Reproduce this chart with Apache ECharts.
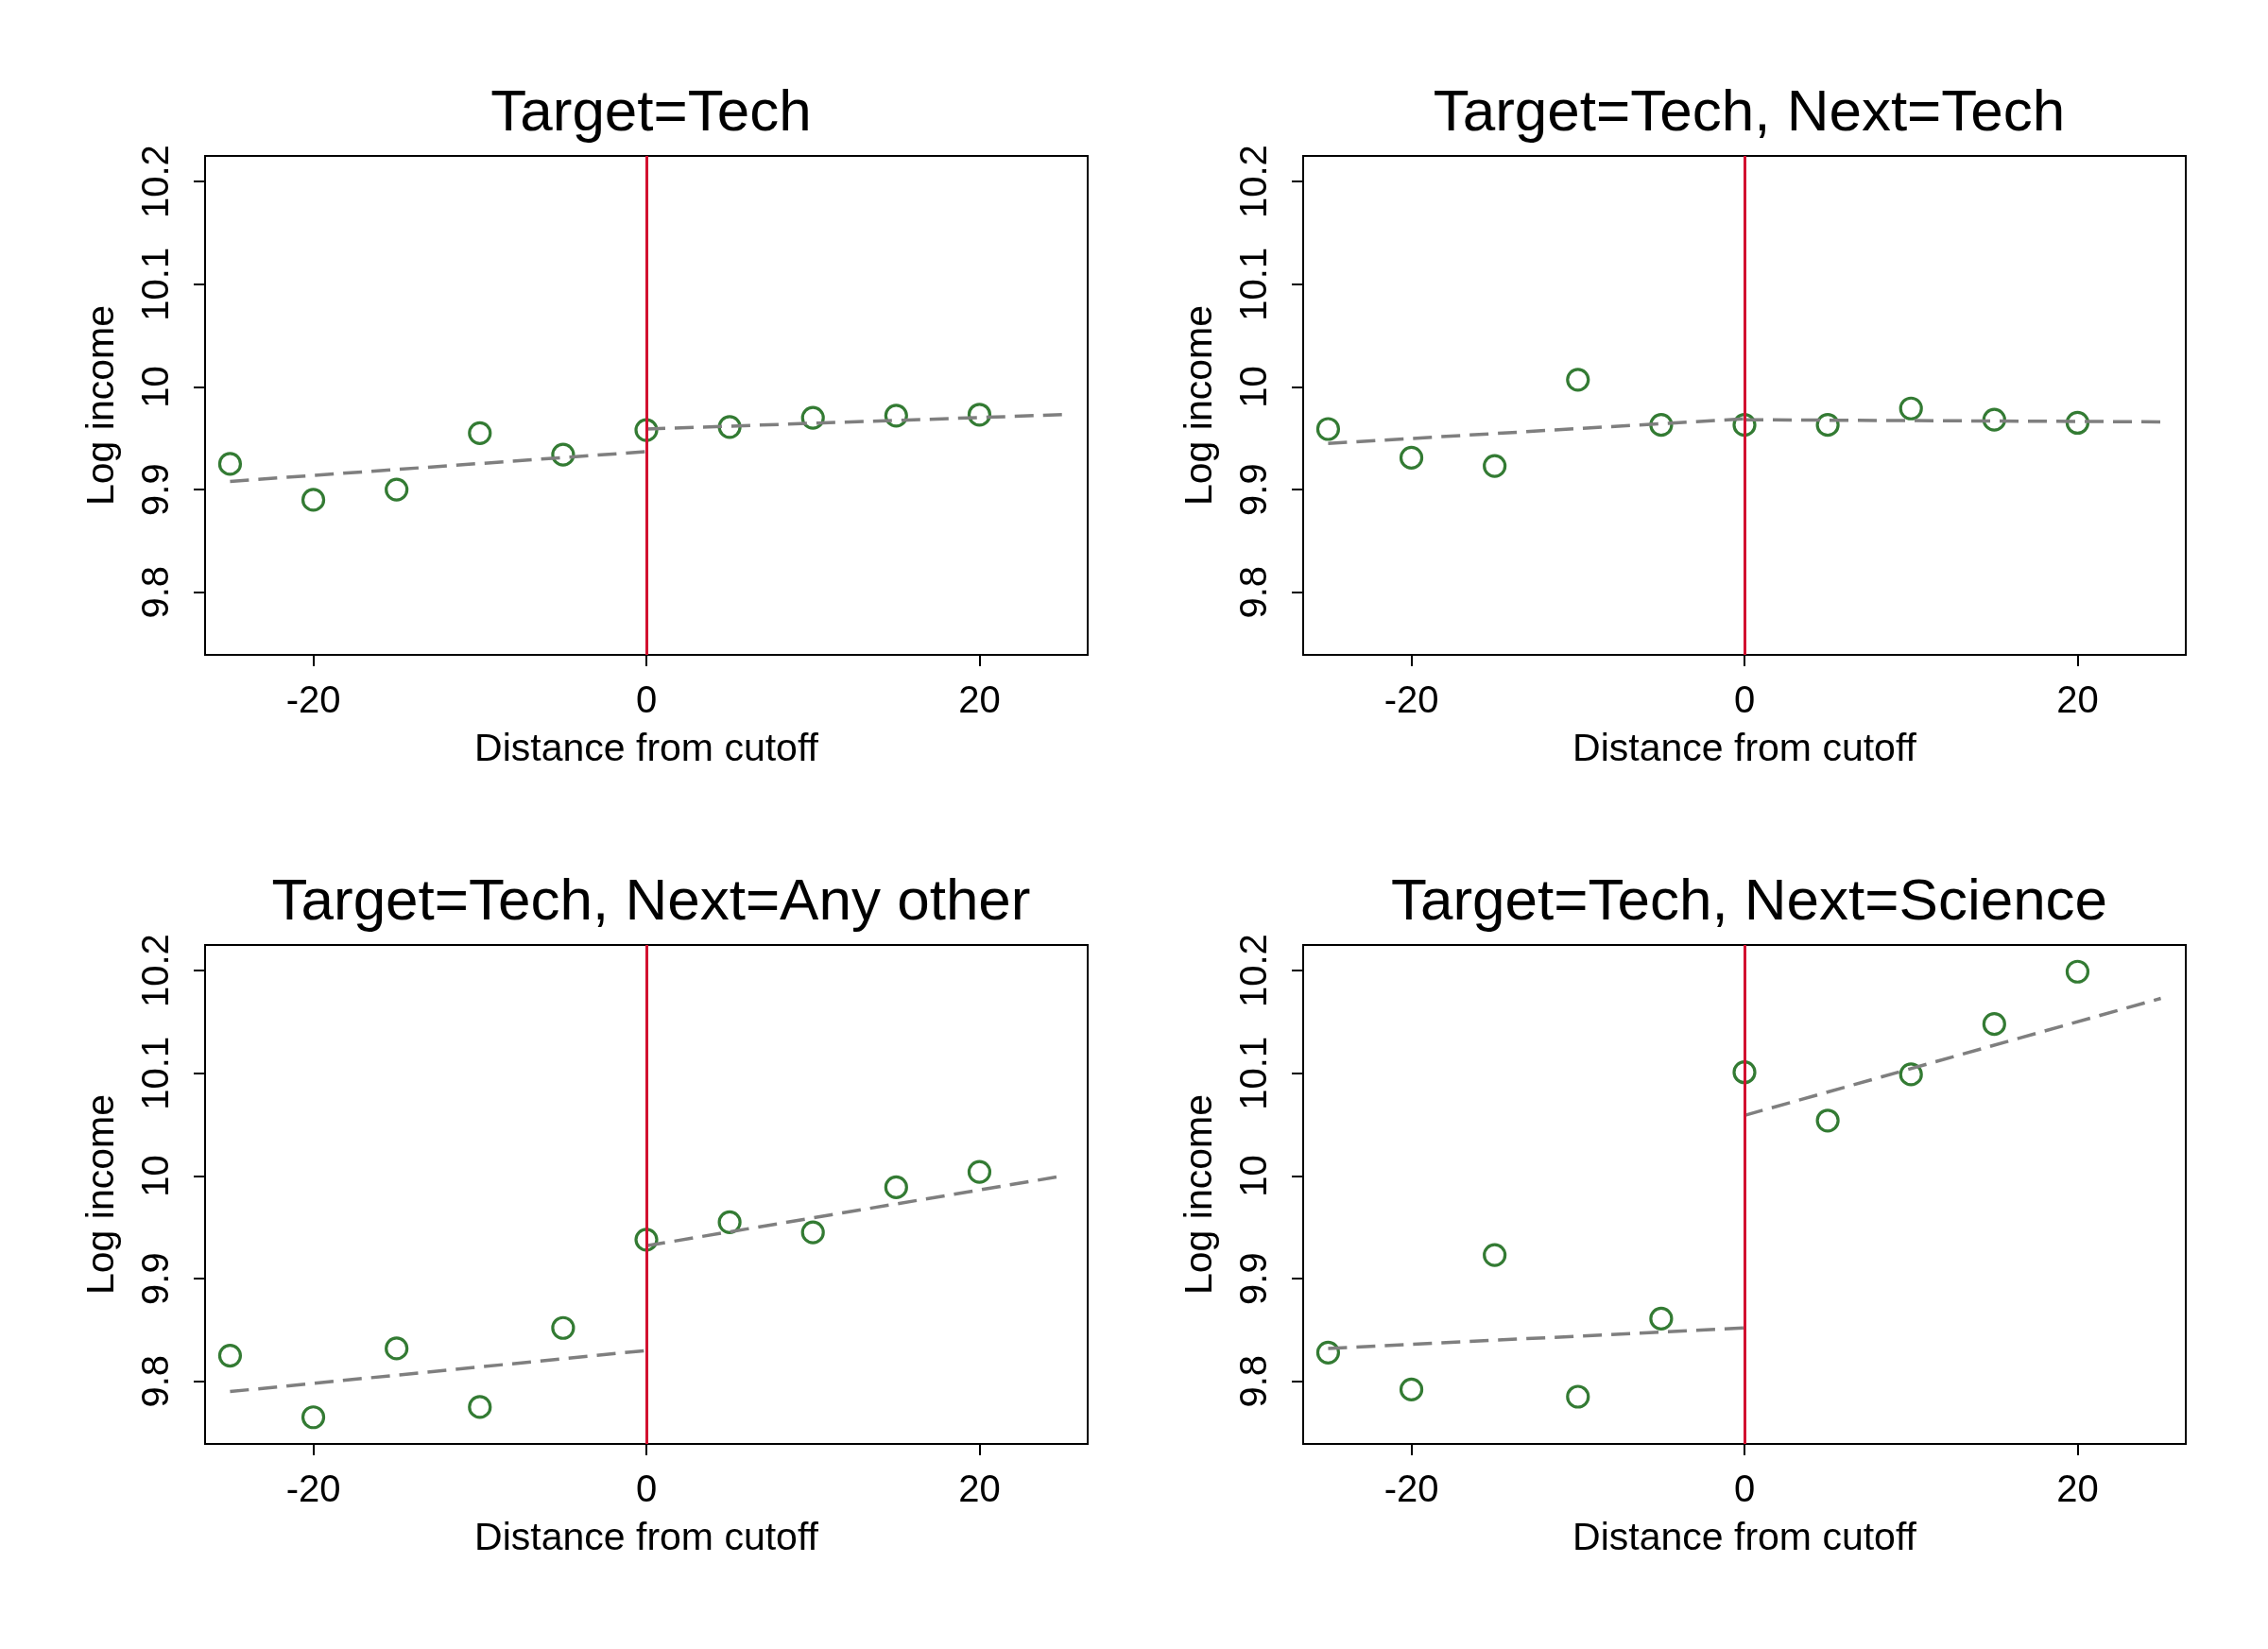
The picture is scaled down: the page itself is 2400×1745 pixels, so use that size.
<!DOCTYPE html>
<html>
<head>
<meta charset="UTF-8">
<title>Log income by distance from cutoff</title>
<script src="https://cdn.jsdelivr.net/npm/echarts@6.0.0/dist/echarts.min.js"></script>
<style>html,body{margin:0;padding:0;background:#fff}</style>
</head>
<body>
<div id="chart" style="width:2400px;height:1745px;"></div>
<script>
// data
var distances = [-25, -20, -15, -10, -5, 0, 5, 10, 15, 20];
var titles = ["Target=Tech", "Target=Tech, Next=Tech", "Target=Tech, Next=Any other", "Target=Tech, Next=Science"];
var pointsTech = [9.925, 9.890, 9.900, 9.955, 9.934, 9.958, 9.961, 9.970, 9.972, 9.973];
var pointsNextTech = [9.959, 9.931, 9.923, 10.007, 9.963, 9.963, 9.963, 9.979, 9.968, 9.965];
var pointsNextOther = [9.825, 9.765, 9.832, 9.775, 9.852, 9.938, 9.955, 9.945, 9.989, 10.004];
var pointsNextScience = [9.828, 9.792, 9.923, 9.785, 9.861, 10.101, 10.054, 10.099, 10.148, 10.199];
// fitted lines: [y at -25, y at 0 (left)], [y at 0 (right), y at 25]
var fitLeft = [[9.908, 9.937], [9.945, 9.969], [9.790, 9.830], [9.832, 9.852]];
var fitRight = [[9.959, 9.973], [9.968, 9.966], [9.932, 10.000], [10.059, 10.173]];
var xTicks = [-20, 0, 20];
var yTicks = [9.8, 9.9, 10, 10.1, 10.2];

var allPoints = [pointsTech, pointsNextTech, pointsNextOther, pointsNextScience];
var gridPos = [[217, 165], [1379, 165], [217, 1000], [1379, 1000]];
var gw = 934, gh = 528;
var font = "Arial, 'Liberation Sans', sans-serif";

var option = {backgroundColor: "#fff", title: [], grid: [], xAxis: [], yAxis: [], series: []};

for (var i = 0; i < 4; i++) {
	option.title.push({
		text: titles[i], left: gridPos[i][0] + gw / 2, top: gridPos[i][1] - 80, textAlign: "center",
		textStyle: {fontFamily: font, fontSize: 62, fontWeight: "normal", color: "#000"}
	});
	option.grid.push({
		left: gridPos[i][0], top: gridPos[i][1], width: gw, height: gh,
		show: true, borderColor: "#000", borderWidth: 2, backgroundColor: "#fff"
	});
	option.xAxis.push({
		type: "value", gridIndex: i, min: -26.5, max: 26.5,
		name: "Distance from cutoff", nameLocation: "middle", nameGap: 80,
		nameTextStyle: {fontFamily: font, fontSize: 41, color: "#000"},
		axisLine: {show: true, onZero: false, lineStyle: {color: "#000", width: 2}},
		axisTick: {show: true, length: 12, customValues: xTicks, lineStyle: {color: "#000", width: 2}},
		axisLabel: {customValues: xTicks, fontFamily: font, fontSize: 40, color: "#000", margin: 30},
		splitLine: {show: false}
	});
	option.yAxis.push({
		type: "value", gridIndex: i, min: 9.739, max: 10.225,
		name: "Log income", nameLocation: "middle", nameGap: 88, nameRotate: 90,
		nameTextStyle: {fontFamily: font, fontSize: 41, color: "#000"},
		axisLine: {show: true, onZero: false, lineStyle: {color: "#000", width: 2}},
		axisTick: {show: true, length: 12, customValues: yTicks, lineStyle: {color: "#000", width: 2}},
		axisLabel: {customValues: yTicks, rotate: 90, fontFamily: font, fontSize: 40, color: "#000", margin: 30,
			formatter: function (v) { return String(Math.round(v * 10) / 10); }},
		splitLine: {show: false}
	});
	var dashed = {color: "#7f7f7f", width: 3.5, type: [20, 10]};
	option.series.push({
		type: "line", xAxisIndex: i, yAxisIndex: i, symbol: "none", silent: true,
		data: [[-25, fitLeft[i][0]], [0, fitLeft[i][1]]], lineStyle: dashed,
		markLine: {silent: true, symbol: "none", label: {show: false},
			lineStyle: {color: "#d2102f", width: 3, type: "solid"}, data: [{xAxis: 0}]}
	});
	option.series.push({
		type: "line", xAxisIndex: i, yAxisIndex: i, symbol: "none", silent: true,
		data: [[0, fitRight[i][0]], [25, fitRight[i][1]]], lineStyle: dashed
	});
	option.series.push({
		type: "scatter", xAxisIndex: i, yAxisIndex: i, symbol: "circle", symbolSize: 22,
		itemStyle: {color: "transparent", borderColor: "#005a00", borderWidth: 3.2},
		data: distances.map(function (d, k) { return [d, allPoints[i][k]]; })
	});
}

var chart = echarts.init(document.getElementById("chart"));
chart.setOption(option);
</script>
</body>
</html>
